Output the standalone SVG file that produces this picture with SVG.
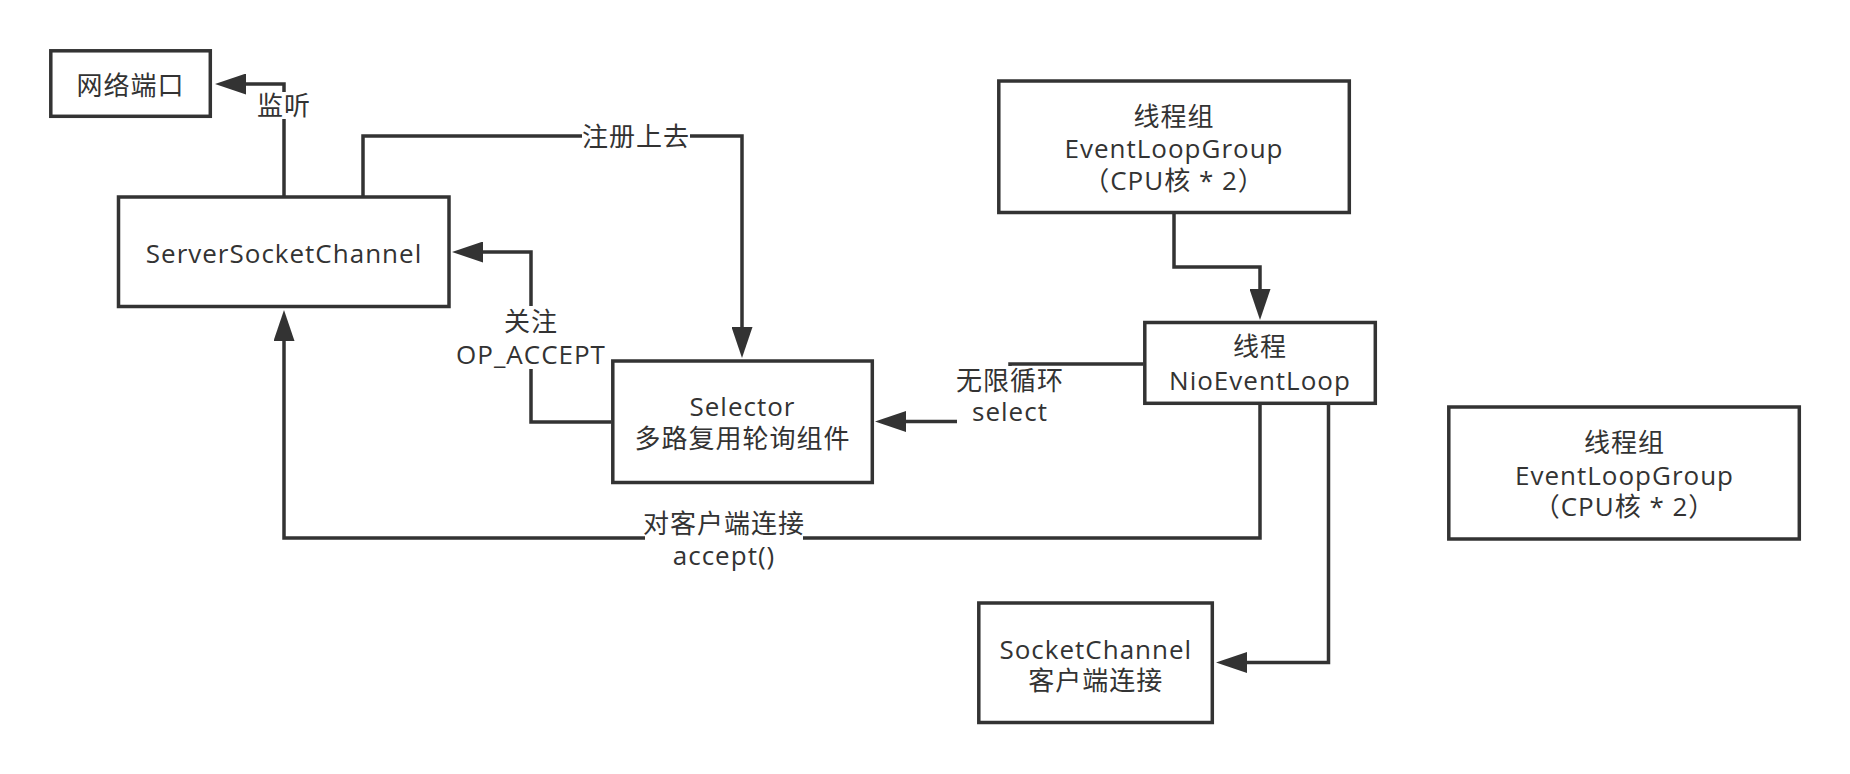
<svg xmlns="http://www.w3.org/2000/svg" width="1850" height="774" viewBox="0 0 1850 774">
<style>
.box{fill:#fff;stroke:#333;stroke-width:3.5}
.edge{fill:none;stroke:#333;stroke-width:3.5;marker-end:url(#arr)}
.t{font-family:"Open Sans","Noto Sans CJK SC",sans-serif;font-size:26px;letter-spacing:1px;fill:#333;text-anchor:middle}
.bg{fill:#fff}
</style>
<defs>
<marker id="arr" markerUnits="userSpaceOnUse" viewBox="0 0 31 21" markerWidth="31" markerHeight="21" refX="1" refY="10.5" orient="auto">
<path d="M0,0 L31,10.5 L0,21 z" fill="#333"/>
</marker>
</defs>
<rect width="1850" height="774" fill="#fff"/>
<g id="connectors">
<g id="e-listen">
<path class="edge" d="M284,196 V84 H245"/>
<rect class="bg" x="256" y="92" width="56" height="27"/>
<text class="t" x="284" y="115">监听</text>
</g>
<g id="e-register">
<path class="edge" d="M363,196 V136 H742 V328"/>
<rect class="bg" x="582" y="124" width="108" height="26"/>
<text class="t" x="636" y="146">注册上去</text>
</g>
<g id="e-accept-op">
<path class="edge" d="M611,422 H531 V252 H482"/>
<rect class="bg" x="456" y="306" width="150" height="63"/>
<text class="t" x="531" y="331">关注</text>
<text class="t" x="531" y="363.5">OP_ACCEPT</text>
</g>
<g id="e-group-loop">
<path class="edge" d="M1174,214 V267 H1260 V290"/>
</g>
<g id="e-select">
<path class="edge" d="M1143,364 H1010 V421.5 H905"/>
<rect class="bg" x="957" y="366" width="105" height="62"/>
<text class="t" x="1010" y="390">无限循环</text>
<text class="t" x="1010" y="421">select</text>
</g>
<g id="e-accept">
<path class="edge" d="M1260,405 V538 H284 V340"/>
<rect class="bg" x="645" y="509" width="158" height="63"/>
<text class="t" x="724" y="533">对客户端连接</text>
<text class="t" x="724" y="565">accept()</text>
</g>
<g id="e-socket">
<path class="edge" d="M1328.5,405 V662.5 H1246"/>
</g>
</g>
<g id="n-port">
<rect class="box" x="50.8" y="50.8" width="159.5" height="65.5"/>
<text class="t" x="130.5" y="95">网络端口</text>
</g>
<g id="n-server">
<rect class="box" x="118.5" y="197" width="330.5" height="109.5"/>
<text class="t" x="284" y="262.5">ServerSocketChannel</text>
</g>
<g id="n-selector">
<rect class="box" x="612.8" y="361" width="259.5" height="121.5"/>
<text class="t" x="742.5" y="416">Selector</text>
<text class="t" x="742.5" y="448">多路复用轮询组件</text>
</g>
<g id="n-group1">
<rect class="box" x="998.8" y="81" width="350.5" height="131.5"/>
<text class="t" x="1174" y="126.3">线程组</text>
<text class="t" x="1174" y="158.3">EventLoopGroup</text>
<text class="t" x="1174" y="190">（CPU核 * 2）</text>
</g>
<g id="n-loop">
<rect class="box" x="1144.8" y="322.5" width="230.5" height="80.8"/>
<text class="t" x="1260" y="356">线程</text>
<text class="t" x="1260" y="390">NioEventLoop</text>
</g>
<g id="n-socket">
<rect class="box" x="978.8" y="603" width="233.5" height="119.5"/>
<text class="t" x="1095.8" y="659">SocketChannel</text>
<text class="t" x="1095.8" y="690">客户端连接</text>
</g>
<g id="n-group2">
<rect class="box" x="1448.8" y="407" width="350.5" height="132"/>
<text class="t" x="1624.5" y="452">线程组</text>
<text class="t" x="1624.5" y="484.5">EventLoopGroup</text>
<text class="t" x="1624.5" y="516">（CPU核 * 2）</text>
</g>
</svg>
